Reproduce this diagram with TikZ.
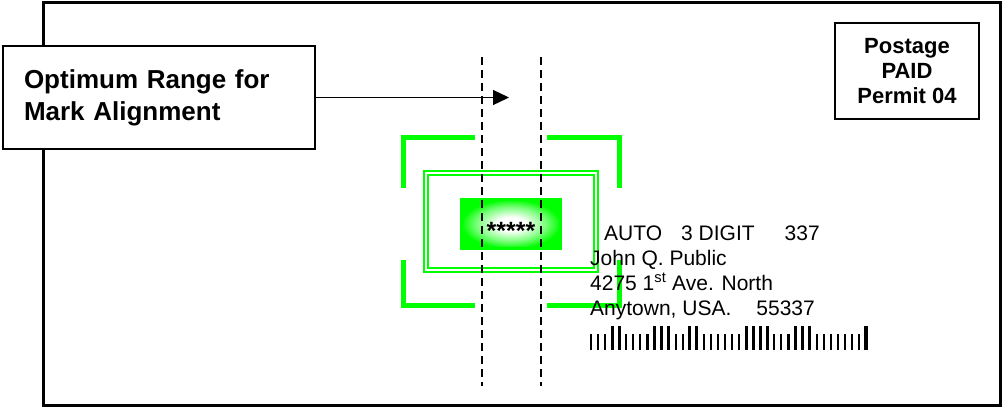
\documentclass[tikz,border=0pt]{standalone}
\usepackage{fontspec}
\setmainfont{Liberation Sans}
\usepackage{xcolor}
\usetikzlibrary{arrows.meta,positioning}
\definecolor{markgreen}{RGB}{0,255,0}
\pgfdeclareradialshading{markglow}{\pgfpoint{0bp}{0bp}}{%
  color(0bp)=(white); color(7bp)=(white); color(18bp)=(markgreen!55);
  color(25bp)=(markgreen); color(50bp)=(markgreen)}
\tikzset{
  envelope/.style={draw,line width=3pt},                       % outer edge of the envelope
  callout/.style={draw,fill=white,line width=1.5pt,minimum height=103pt,
                  text width=270pt,inner xsep=21pt,align=left,
                  font=\fontsize{26}{32}\selectfont\bfseries},
  stamp/.style={draw,line width=1.5pt,minimum width=144pt,minimum height=96pt,
                align=center,font=\fontsize{22}{25}\selectfont\bfseries},
  guide/.style={line width=1.4pt,dash pattern=on 8pt off 5pt}, % alignment range
  bracket/.style={draw=markgreen,line width=5pt},
  frame/.style={draw=markgreen,double=white,double distance=2.4pt,line width=2pt},
  markbox/.style={draw=markgreen,line width=3pt,shading=markglow,
                  minimum width=99pt,minimum height=49pt},
  stars/.style={font=\fontsize{25}{25}\selectfont\bfseries,inner sep=0pt},
  addr/.style={font=\fontsize{21}{25}\selectfont,inner sep=0pt,anchor=base west},
  ar/.style={-{Triangle[length=16pt,width=15pt]},line width=1.3pt}
}

\begin{document}
\begin{tikzpicture}[x=1pt,y=-1pt]
  \useasboundingbox (0,0) rectangle (1005,408);
  \draw[envelope] (43,2.5) rectangle (1000,405);

  % corner brackets of the mark area
  \draw[bracket] (403,188) -- (403,137.5) -- (475,137.5);
  \draw[bracket] (547,137.5) -- (619.5,137.5) -- (619.5,188);
  \draw[bracket] (403,260) -- (403,305.5) -- (475,305.5);
  \draw[bracket] (547,305.5) -- (619.5,305.5) -- (619.5,260);
  \draw[frame] (426.2,173.2) rectangle (595.8,269.8);
  \node[markbox] (mark) at (511,224) {};
  \node[stars,anchor=base] (code) at ([yshift=-15pt]mark.center) {*****};

  \node[stamp] (postage) at (907,71) {Postage\\PAID\\Permit 04};

  \node[addr] (line1) at (590,240) {\hspace*{14pt}AUTO\hspace{19pt}3 DIGIT\hspace{30pt}337};
  \node[addr] (line2) at (590,265) {John Q. Public};
  \node[addr] (line3) at (590,290) {4275 1\textsuperscript{st} Ave. North};
  \node[addr] (line4) at (590,315) {Anytown, USA.\hspace{25pt}55337};

  \foreach \h [count=\i from 0] in {0,0,0,1,1,0,0,0,0,1,1,1,0,0,1,1,0,0,0,0,
                                    0,0,1,1,1,1,0,0,0,1,1,1,0,0,0,0,0,0,0,1}
    \draw[line width=2.2pt+\h pt] (591+7.05*\i,350) -- (591+7.05*\i,334-8*\h);

  \draw[guide] (482,57) -- (482,386);
  \draw[guide] (541,57) -- (541,386);

  \node[callout] (range) at (159,97.5) {Optimum Range for\\Mark Alignment};
  \coordinate (tip) at (509,97.5);
  \draw[ar] (range.east) -- (tip);
\end{tikzpicture}
\end{document}
